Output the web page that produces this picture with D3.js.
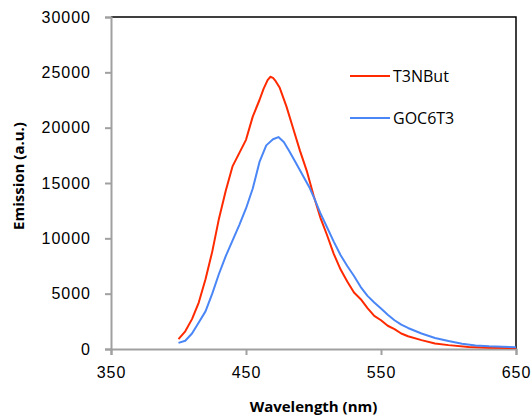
<!DOCTYPE html>
<html>
<head>
<meta charset="utf-8">
<script src="https://cdn.jsdelivr.net/npm/d3@7"></script>
<style>
    body { margin: 0; background: #fff; }
    svg { display: block; font-family: "Open Sans", sans-serif; }
    .tick text { font-size: 16px; fill: #000; letter-spacing: 1px; }
</style>
</head>
<body>
<svg id="chart" width="532" height="416"></svg>
<script>
// Emission spectra
var redWl  = [400, 405, 410, 415, 420, 425, 430, 435, 440, 445, 450, 455, 460, 463, 466, 468, 470, 472, 475, 480, 485, 490, 495, 500, 505, 510, 515, 520, 525, 530, 535, 540, 545, 550, 555, 560, 565, 570, 580, 590, 600, 615, 630, 650];
var redVal = [900, 1600, 2700, 4200, 6300, 8800, 11800, 14300, 16500, 17700, 18900, 21000, 22500, 23500, 24300, 24600, 24500, 24200, 23600, 21900, 19900, 17900, 16100, 13900, 11900, 10300, 8600, 7200, 6100, 5100, 4500, 3700, 3000, 2600, 2100, 1800, 1400, 1150, 800, 500, 350, 170, 120, 80];

var blueWl  = [400, 405, 410, 415, 420, 425, 430, 435, 440, 445, 450, 455, 460, 465, 470, 474, 478, 482, 487, 492, 497, 501, 505, 510, 515, 520, 525, 530, 535, 540, 545, 550, 555, 560, 565, 570, 580, 590, 600, 610, 620, 630, 640, 650];
var blueVal = [550, 750, 1400, 2400, 3400, 5000, 6800, 8400, 9800, 11200, 12700, 14500, 16900, 18400, 18950, 19150, 18700, 17900, 16800, 15700, 14600, 13500, 12300, 11000, 9700, 8500, 7500, 6600, 5600, 4800, 4200, 3650, 3100, 2600, 2200, 1900, 1400, 1000, 720, 480, 310, 240, 200, 150];

var seriesNames = ["T3NBut", "GOC6T3"];
var seriesColors = ["#ff2a00", "#4a86f6"];
var xTicks = [350, 450, 550, 650];
var yTicks = [0, 5000, 10000, 15000, 20000, 25000, 30000];

(function() {
    var svg = d3.select("#chart");
    var mLeft = 111, mRight = 516, mTop = 17, mBottom = 349;

    var x = d3.scaleLinear().domain([350, 650]).range([mLeft, mRight]);
    var y = d3.scaleLinear().domain([0, 30000]).range([mBottom, mTop]);

    // frame: black top / right
    svg.append("path")
        .attr("d", "M" + mLeft + "," + mTop + "H" + mRight + "V" + mBottom)
        .attr("fill", "none")
        .attr("stroke", "#000")
        .attr("stroke-width", 1.5);

    var yAxis = svg.append("g")
        .attr("transform", "translate(" + mLeft + ",0)")
        .call(d3.axisLeft(y).tickValues(yTicks).tickSize(6).tickPadding(14).tickFormat(d3.format("d")));

    var xAxis = svg.append("g")
        .attr("transform", "translate(0," + mBottom + ")")
        .call(d3.axisBottom(x).tickValues(xTicks).tickSize(6).tickPadding(12).tickFormat(d3.format("d")));

    [yAxis, xAxis].forEach(function(a) {
        a.select(".domain").attr("stroke", "#a0a0a0").attr("stroke-width", 2);
        a.selectAll(".tick line").attr("stroke", "#a0a0a0").attr("stroke-width", 2);
    });

    var line = d3.line()
        .x(function(d) { return x(d[0]); })
        .y(function(d) { return y(d[1]); });

    var series = [
        d3.zip(redWl, redVal),
        d3.zip(blueWl, blueVal)
    ];

    svg.selectAll(".series")
        .data(series)
        .enter().append("path")
            .attr("class", "series")
            .attr("d", line)
            .attr("fill", "none")
            .attr("stroke", function(d, i) { return seriesColors[i]; })
            .attr("stroke-width", 2)
            .attr("stroke-linejoin", "round");

    // legend
    var legend = svg.selectAll(".legend")
        .data(seriesNames)
        .enter().append("g")
            .attr("class", "legend")
            .attr("transform", function(d, i) { return "translate(350," + (76 + i * 42) + ")"; });

    legend.append("line")
        .attr("x1", 0).attr("x2", 40)
        .attr("stroke", function(d, i) { return seriesColors[i]; })
        .attr("stroke-width", 2);

    legend.append("text")
        .attr("x", 43)
        .attr("dy", "0.35em")
        .style("font-size", "16px")
        .text(function(d) { return d; });

    // axis titles
    svg.append("text")
        .attr("transform", "translate(24,176) rotate(-90)")
        .attr("text-anchor", "middle")
        .style("font-size", "15px")
        .style("font-weight", "bold")
        .text("Emission (a.u.)");

    svg.append("text")
        .attr("x", (mLeft + mRight) / 2)
        .attr("y", 412)
        .attr("text-anchor", "middle")
        .style("font-size", "15px")
        .style("font-weight", "bold")
        .text("Wavelength (nm)");
})();
</script>
</body>
</html>
